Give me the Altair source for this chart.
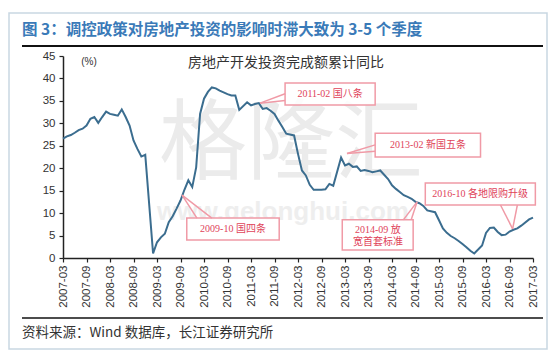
import altair as alt
import pandas as pd

# ---------------- data ----------------
months = [
    "2007-03", "2007-04", "2007-05", "2007-06", "2007-07", "2007-08", "2007-09", "2007-10",
    "2007-11", "2007-12", "2008-01", "2008-02", "2008-03", "2008-04", "2008-05", "2008-06",
    "2008-07", "2008-08", "2008-09", "2008-10", "2008-11", "2008-12", "2009-02", "2009-03",
    "2009-04", "2009-05", "2009-06", "2009-07", "2009-08", "2009-09", "2009-10", "2009-11",
    "2009-12", "2010-01", "2010-02", "2010-03", "2010-04", "2010-05", "2010-06", "2010-07",
    "2010-08", "2010-09", "2010-10", "2010-11", "2010-12", "2011-02", "2011-03", "2011-04",
    "2011-05", "2011-06", "2011-07", "2011-08", "2011-09", "2011-10", "2011-11", "2011-12",
    "2012-02", "2012-03", "2012-04", "2012-05", "2012-06", "2012-07", "2012-08", "2012-09",
    "2012-10", "2012-11", "2012-12", "2013-02", "2013-03", "2013-04", "2013-05", "2013-06",
    "2013-07", "2013-08", "2013-09", "2013-10", "2013-11", "2013-12", "2014-02", "2014-03",
    "2014-04", "2014-05", "2014-06", "2014-07", "2014-08", "2014-09", "2014-10", "2014-11",
    "2014-12", "2015-02", "2015-03", "2015-04", "2015-05", "2015-06", "2015-07", "2015-08",
    "2015-09", "2015-10", "2015-11", "2015-12", "2016-02", "2016-03", "2016-04", "2016-05",
    "2016-06", "2016-07", "2016-08", "2016-09", "2016-10", "2016-11", "2016-12", "2017-02",
    "2017-03",
]
values = [
    26.6, 27.1, 27.4, 27.9, 28.5, 28.8, 29.5, 31.0,
    31.4, 30.1, 31.4, 32.6, 32.1, 31.9, 31.7, 33.1,
    31.4, 29.5, 26.2, 24.3, 22.6, 23.0, 1.0, 3.5,
    4.6, 5.4, 8.0, 9.3, 11.0, 12.8, 15.2, 17.3,
    15.8, 20.2, 32.1, 35.5, 37.0, 38.0, 37.8, 37.3,
    36.9, 36.5, 36.2, 36.2, 33.0, 34.7, 34.0, 34.3,
    34.5, 33.2, 33.4, 32.8, 32.1, 30.6, 29.2, 27.7,
    27.3, 23.2, 19.5, 18.4, 16.3, 15.2, 15.2, 15.2,
    15.3, 16.5, 16.1, 22.4, 20.6, 21.0, 20.3, 20.4,
    19.4, 19.6, 19.4, 19.1, 19.3, 19.5, 17.6, 16.2,
    15.4, 14.7, 14.0, 13.6, 13.2, 12.5, 12.2, 11.6,
    10.6, 10.2, 8.4, 6.6, 5.6, 4.9, 4.4, 3.8,
    3.1, 2.4, 1.6, 1.0, 2.8, 5.6, 6.7, 6.8,
    5.8, 5.1, 5.2, 5.9, 6.3, 6.6, 7.2, 8.6,
    9.0,
]

x_tick_idx = list(range(0, 121, 6))   # every 6 months from 2007-03
y_ticks = list(range(0, 46, 5))

title_text = "图 3：调控政策对房地产投资的影响时滞大致为 3-5 个季度"
chart_title = "房地产开发投资完成额累计同比"
unit_label = "(%)"
source_text = "资料来源：Wind 数据库，长江证券研究所"
watermark = "格隆汇"
watermark_url = "www.gelonghui.com"

# annotation boxes (month index from 2007-03, value)
box_x1 = [31.6, 56.7, 79.7, 71.3, 92.5]
box_x2 = [55.2, 79.7, 106.6, 89.4, 120.6]
box_y1 = [8.9, 39.0, 27.8, 8.5, 16.7]
box_y2 = [4.0, 34.1, 22.5, 1.8, 11.8]

# callout wedges: tip on the line -> base on the box
wedge_tip_x = [30.4, 30.4, 50.3, 50.3, 72.5, 72.5, 90.4, 90.4, 114.8, 114.8]
wedge_tip_y = [14.0, 14.0, 34.5, 34.5, 23.3, 23.3, 12.5, 12.5, 6.5, 6.5]
wedge_base_x = [34.2, 38.0, 56.7, 56.7, 79.7, 79.7, 86.9, 88.9, 111.7, 116.0]
wedge_base_y = [8.9, 8.9, 36.6, 35.1, 25.2, 23.8, 8.5, 8.5, 11.8, 11.8]

ann_text = ["2009-10 国四条", "2011-02 国八条", "2013-02 新国五条", "2014-09 放", "宽首套标准", "2016-10 各地限购升级"]
ann_tx = [43.4, 68.2, 93.2, 80.4, 80.4, 106.5]
ann_ty = [6.45, 36.55, 25.2, 6.2, 3.6, 14.3]

# ---------------- tables ----------------
df = pd.DataFrame({"month": months, "value": values})
df["idx"] = df["month"].str[:4].astype(int) * 12 + df["month"].str[5:7].astype(int) - (2007 * 12 + 3)

boxes = pd.DataFrame({"idx": box_x1, "idx2": box_x2, "value": box_y1, "value2": box_y2})
wedges = pd.DataFrame({"idx": wedge_tip_x, "value": wedge_tip_y, "idx2": wedge_base_x, "value2": wedge_base_y})
texts = pd.DataFrame({"idx": ann_tx, "value": ann_ty, "label": ann_text})
dummy = pd.DataFrame({"d": [0]})

CJK = "Noto Sans CJK SC"
LAT = "Liberation Sans"
PINK = "#f09aa6"
RED = "#e0435a"

xscale = alt.Scale(domain=[0, 120], nice=False, zero=False)
yscale = alt.Scale(domain=[0, 45], nice=False, zero=True)

label_expr = ("toString(2007 + floor((datum.value + 2) / 12)) + '-' + "
              "((((datum.value + 2) % 12) + 1) < 10 ? '0' : '') + "
              "toString(((datum.value + 2) % 12) + 1)")

x_axis = alt.Axis(values=x_tick_idx, labelExpr=label_expr, labelAngle=270, title=None,
                  grid=False, tickSize=4, labelFontSize=11.5, labelFont=LAT,
                  labelColor="#333333", domainColor="#222222", tickColor="#222222",
                  domainWidth=1.5, tickWidth=1.2, labelPadding=3)
y_axis = alt.Axis(values=y_ticks, title=None, grid=False, tickSize=4, labelFontSize=11.5,
                  labelFont=LAT, labelColor="#333333", domainColor="#222222",
                  tickColor="#222222", domainWidth=1.5, tickWidth=1.2, labelPadding=4)

X = alt.X("idx:Q", scale=xscale, axis=x_axis)
Y = alt.Y("value:Q", scale=yscale, axis=y_axis)

# ---------------- layers ----------------
frame = alt.Chart(dummy).mark_rect(fillOpacity=0, stroke="#c9d7e2", strokeWidth=1.5).encode(
    x=alt.value(-54), x2=alt.value(484), y=alt.value(-43), y2=alt.value(293))

wm = alt.Chart(dummy).mark_text(font=CJK, fontSize=88, color="#ebebeb", align="center",
                                baseline="middle").encode(
    x=alt.value(228), y=alt.value(90), text=alt.value(watermark))
wm2 = alt.Chart(dummy).mark_text(font=LAT, fontSize=26, fontWeight="bold", color="#eeeeee",
                                 align="center", baseline="middle").encode(
    x=alt.value(220), y=alt.value(156), text=alt.value(watermark_url))

line = alt.Chart(df).mark_line(color="#3b6d8f", strokeWidth=2).encode(x=X, y=Y)

box_layer = alt.Chart(boxes).mark_rect(fill="white", fillOpacity=0.85, stroke=PINK,
                                       strokeWidth=1.5).encode(
    x=X, x2="idx2:Q", y=Y, y2="value2:Q")

wedge_layer = alt.Chart(wedges).mark_rule(color=PINK, strokeWidth=1.5).encode(
    x=X, x2="idx2:Q", y=Y, y2="value2:Q")

text_layer = alt.Chart(texts).mark_text(font="Liberation Serif, " + CJK, fontSize=10,
                                        color=RED, align="center", baseline="middle").encode(
    x=X, y=Y, text="label:N")

title_layer = alt.Chart(dummy).mark_text(font=CJK, fontSize=15.5, fontWeight="bold",
                                         color="#3a7ab8", align="left", baseline="middle").encode(
    x=alt.value(-41), y=alt.value(-26), text=alt.value(title_text))
title_rule = alt.Chart(dummy).mark_rule(color="#111111", strokeWidth=2).encode(
    x=alt.value(-41), x2=alt.value(480), y=alt.value(-10))
chart_title_layer = alt.Chart(dummy).mark_text(font=CJK, fontSize=14, color="#333333",
                                               align="center", baseline="middle").encode(
    x=alt.value(223), y=alt.value(7), text=alt.value(chart_title))
unit_layer = alt.Chart(dummy).mark_text(font=LAT, fontSize=10, color="#333333",
                                        align="center", baseline="middle").encode(
    x=alt.value(26), y=alt.value(6), text=alt.value(unit_label))
bottom_rule = alt.Chart(dummy).mark_rule(color="#111111", strokeWidth=1.5).encode(
    x=alt.value(-41), x2=alt.value(480), y=alt.value(262))
source_layer = alt.Chart(dummy).mark_text(font=CJK, fontSize=13.5, color="#333333",
                                          align="left", baseline="middle").encode(
    x=alt.value(-41), y=alt.value(277), text=alt.value(source_text))

chart = alt.layer(
    frame, wm, wm2, line, box_layer, wedge_layer, text_layer,
    title_layer, title_rule, chart_title_layer, unit_layer, bottom_rule, source_layer,
).properties(
    width=470, height=202,
    autosize=alt.AutoSizeParams(type="none"),
    padding={"left": 63, "top": 56, "right": 21, "bottom": 99},
    background="white",
).configure_view(stroke=None)

chart.save("out.html", embed_options={"renderer": "svg", "actions": False})
